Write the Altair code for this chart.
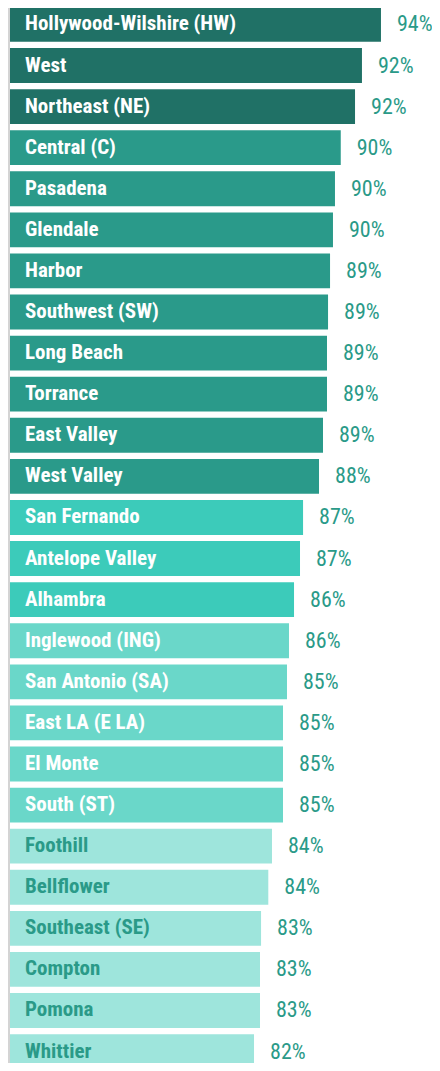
import altair as alt
import pandas as pd

areas = [
    "Hollywood-Wilshire (HW)", "West", "Northeast (NE)", "Central (C)", "Pasadena",
    "Glendale", "Harbor", "Southwest (SW)", "Long Beach", "Torrance", "East Valley",
    "West Valley", "San Fernando", "Antelope Valley", "Alhambra", "Inglewood (ING)",
    "San Antonio (SA)", "East LA (E LA)", "El Monte", "South (ST)", "Foothill",
    "Bellflower", "Southeast (SE)", "Compton", "Pomona", "Whittier",
]
values = [
    94.28, 92.47, 91.81, 90.45, 89.90, 89.71, 89.43, 89.24, 89.14, 89.14, 88.76,
    88.38, 86.86, 86.57, 86.00, 85.52, 85.33, 84.95, 84.95, 84.95, 83.90, 83.55,
    82.86, 82.76, 82.76, 82.19,
]
tiers = [1, 1, 1, 2, 2, 2, 2, 2, 2, 2, 2, 2, 3, 3, 3, 4, 4, 4, 4, 4, 5, 5, 5, 5, 5, 5]

tier_domain = [1, 2, 3, 4, 5]
tier_colors = ["#207166", "#2a9a8a", "#3ccbba", "#6ad7c9", "#9ee5dc"]
TEAL = "#2a9a88"
FONT = "Liberation Sans Narrow, Arial Narrow, Roboto Condensed, DejaVu Sans Condensed, sans-serif"

df = pd.DataFrame({"area": areas, "value": values, "tier": tiers})

X0 = 58.95
W = 422
H = 1055
xscale = alt.Scale(domain=[X0, X0 + W / 10.5], nice=False, zero=False)
yenc = alt.Y("area:N", sort=areas, axis=None,
             scale=alt.Scale(paddingInner=0.152, paddingOuter=0, range=[-1, 1061]))

base = alt.Chart(df)

bars = base.mark_bar().encode(
    x=alt.X("value:Q", scale=xscale, axis=None),
    x2=alt.datum(X0),
    y=yenc,
    color=alt.Color("tier:O", scale=alt.Scale(domain=tier_domain, range=tier_colors), legend=None),
)

names = base.mark_text(align="left", baseline="middle", font=FONT, fontSize=21,
                       fontWeight="bold").encode(
    x=alt.value(15),
    y=yenc,
    text="area:N",
    color=alt.condition(alt.datum.tier == 5, alt.value(TEAL), alt.value("white")),
)

pcts = base.mark_text(align="left", baseline="middle", dx=16, font=FONT, fontSize=22,
                      color=TEAL).transform_calculate(
    label="format(datum.value, '.0f') + '%'"
).encode(
    x=alt.X("value:Q", scale=xscale, axis=None),
    y=yenc,
    text="label:N",
)

axis_line = alt.Chart(df).mark_rule(color="#d4d4d4", strokeWidth=2).encode(x=alt.value(-1))

chart = alt.layer(bars, axis_line, names, pcts).properties(
    width=W, height=H,
    padding={"left": 2, "top": 0, "right": 0, "bottom": 0},
    autosize=alt.AutoSizeParams(type="none"),
).configure_view(stroke=None)

chart.save("out.html", embed_options={"renderer": "svg", "actions": False})
